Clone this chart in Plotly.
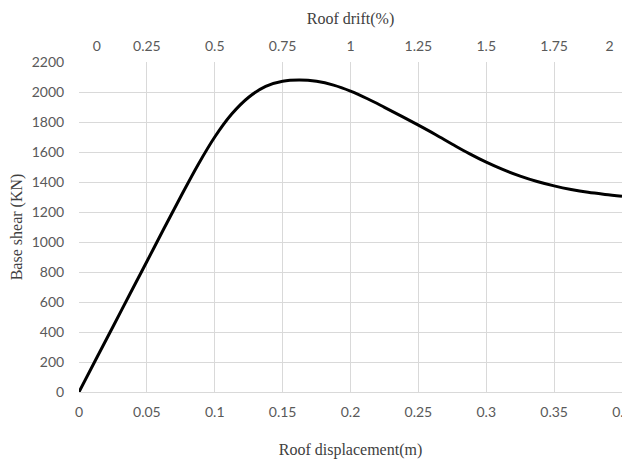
import plotly.graph_objects as go

# Data
displacement_m = [0, 0.0125, 0.025, 0.0375, 0.05, 0.0625, 0.075, 0.0875, 0.1, 0.1125,
                  0.125, 0.1375, 0.15, 0.1625, 0.175, 0.1875, 0.2, 0.2125, 0.225,
                  0.2375, 0.25, 0.2625, 0.275, 0.2875, 0.3, 0.3125, 0.325, 0.3375,
                  0.35, 0.3625, 0.375, 0.3875, 0.4]
base_shear_kn = [0, 218, 435, 653, 870, 1088, 1303, 1512, 1700, 1853,
                 1965, 2038, 2072, 2080, 2071, 2046, 2006, 1955, 1898,
                 1839, 1779, 1717, 1652, 1589, 1532, 1482, 1439, 1403,
                 1374, 1350, 1331, 1317, 1305]
drift_ticks = [0, 0.25, 0.5, 0.75, 1, 1.25, 1.5, 1.75, 2]
NB = "\u00a0"
drift_labels = [NB * 10 + "0", "0.25", "0.5", "0.75", "1", "1.25", "1.5", "1.75", "2" + NB * 7]

tick_font = dict(family="Lato, Roboto, sans-serif", size=14, color="#595959")
title_font = dict(family="Liberation Serif, Times New Roman, serif", size=16, color="#404040")
grid = "#d9d9d9"

fig = go.Figure()
fig.add_trace(go.Scatter(
    x=displacement_m, y=base_shear_kn, mode="lines",
    line=dict(color="black", width=3, shape="spline", smoothing=1.0),
    showlegend=False, hoverinfo="x+y",
))

# page body has an 8px margin, so the figure is placed 8px right and down
fig.update_layout(
    width=622, height=451,
    margin=dict(l=71, r=8, t=54, b=67),
    paper_bgcolor="white", plot_bgcolor="white",
    xaxis=dict(
        range=[0, 0.4], dtick=0.05, tick0=0, automargin=False,
        showgrid=True, gridcolor=grid, gridwidth=1,
        showline=True, linecolor=grid, linewidth=1,
        zeroline=False, ticklabeloverflow="allow",
        ticks="outside", ticklen=7, tickcolor="rgba(0,0,0,0)",
        tickfont=tick_font,
        title=dict(text="Roof displacement(m)", font=title_font, standoff=28),
    ),
    xaxis2=dict(
        range=[0, 2], overlaying="x", side="top", automargin=False,
        tickmode="array", tickvals=drift_ticks, ticktext=drift_labels,
        showgrid=False, zeroline=False, showline=False, ticklabeloverflow="allow",
        ticks="outside", ticklen=4, tickcolor="rgba(0,0,0,0)",
        tickfont=tick_font,
        title=dict(text="Roof drift(%)", font=title_font, standoff=8),
    ),
    yaxis=dict(
        range=[0, 2200], dtick=200, tick0=0, automargin=False,
        showgrid=True, gridcolor=grid, gridwidth=1,
        zeroline=False, showline=False, ticklabeloverflow="allow",
        ticks="outside", ticklen=11, tickcolor="rgba(0,0,0,0)",
        tickfont=tick_font,
        title=dict(text="Base shear (KN)", font=title_font, standoff=8),
    ),
)

# invisible trace to anchor the top axis
fig.add_trace(go.Scatter(x=[drift_ticks[0], drift_ticks[-1]], y=[None, None],
                         xaxis="x2", mode="lines", showlegend=False, hoverinfo="skip"))

fig.write_html("out.html")
